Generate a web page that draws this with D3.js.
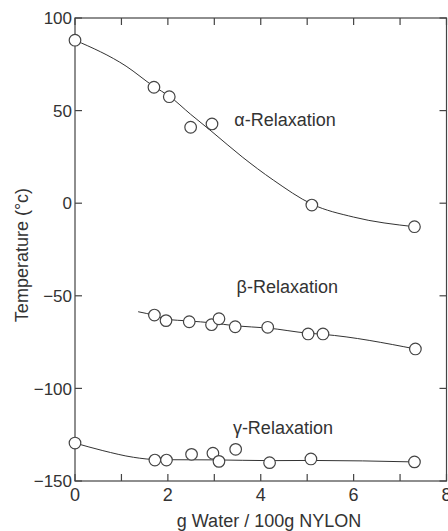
<!DOCTYPE html>
<html><head><meta charset="utf-8">
<script src="https://cdn.jsdelivr.net/npm/d3@7"></script>
<style>body{margin:0;background:#fff}svg{display:block}text{font-family:"Liberation Sans",Arial,sans-serif;fill:#333}</style>
</head><body>
<script>
// Data points (x = g water / 100 g nylon, y = temperature °C)
const alphaX = [0, 1.70, 2.03, 2.49, 2.95, 5.10, 7.31];
const alphaY = [88, 62.6, 57.5, 41, 42.8, -1, -12.7];
const betaX = [1.71, 1.96, 2.46, 2.94, 3.10, 3.45, 4.15, 5.02, 5.34, 7.33];
const betaY = [-60.4, -63.4, -64.0, -65.6, -62.4, -66.7, -67.0, -70.6, -70.6, -78.7];
const gammaX = [0, 1.72, 1.97, 2.51, 2.97, 3.10, 3.46, 4.19, 5.08, 7.31];
const gammaY = [-129.5, -138.7, -138.7, -135.6, -135.0, -139.4, -132.9, -140.1, -138.1, -139.7];
// Fitted curves (smooth guide lines)
const alphaFitX = [0, 1.1, 1.7, 2.03, 2.49, 2.95, 3.6, 4.27, 5.1, 6.0, 7.31];
const alphaFitY = [88, 74, 63, 57.8, 48, 38.6, 25, 12.5, -0.5, -7.5, -12.7];
const betaFitX = [1.36, 1.71, 1.96, 2.46, 2.94, 3.45, 4.15, 5.02, 5.34, 7.33];
const betaFitY = [-58.6, -60.6, -62.6, -63.6, -64.6, -66.2, -67.4, -70.2, -70.8, -78.7];
const gammaFitX = [0, 0.6, 1.26, 1.8, 3.0, 4.2, 5.08, 7.31];
const gammaFitY = [-129.5, -133.6, -137.2, -138.5, -138.6, -139.0, -138.9, -139.7];
const labels = ["α-Relaxation", "β-Relaxation", "γ-Relaxation"];
const labelX = [3.43, 3.48, 3.4];
const labelY = [41.5, -48.5, -124.5];
const xTicks = [0, 1, 2, 3, 4, 5, 6, 7, 8];
const xTickLabels = [0, 2, 4, 6, 8];
const yTicks = [100, 50, 0, -50, -100, -150];

const W = 448, H = 531;
const svg = d3.select("body").append("svg").attr("width", W).attr("height", H);
const x = d3.scaleLinear().domain([0, 8]).range([75, 446.5]);
const y = d3.scaleLinear().domain([-150, 100]).range([481, 18]);
const stroke = "#444";
const fs = 18;

// frame
svg.append("rect").attr("x", x(0)).attr("y", y(100)).attr("width", x(8) - x(0)).attr("height", y(-150) - y(100))
  .attr("fill", "none").attr("stroke", stroke).attr("stroke-width", 1.2);

const tl = 7;
const g = svg.append("g");
xTicks.forEach(t => {
  g.append("line").attr("x1", x(t)).attr("x2", x(t)).attr("y1", y(-150)).attr("y2", y(-150) - tl).attr("stroke", stroke).attr("stroke-width", 1.2);
  g.append("line").attr("x1", x(t)).attr("x2", x(t)).attr("y1", y(100)).attr("y2", y(100) + tl).attr("stroke", stroke).attr("stroke-width", 1.2);
});
yTicks.forEach(t => {
  g.append("line").attr("x1", x(0)).attr("x2", x(0) + tl).attr("y1", y(t)).attr("y2", y(t)).attr("stroke", stroke).attr("stroke-width", 1.2);
  g.append("line").attr("x1", x(8)).attr("x2", x(8) - tl).attr("y1", y(t)).attr("y2", y(t)).attr("stroke", stroke).attr("stroke-width", 1.2);
  g.append("text").attr("x", x(0) - 3).attr("y", y(t)).attr("dy", "0.36em").attr("text-anchor", "end")
    .attr("font-size", 17).text(t < 0 ? "\u2212" + Math.abs(t) : t);
});
xTickLabels.forEach(t => {
  g.append("text").attr("x", x(t)).attr("y", 501).attr("text-anchor", "middle").attr("font-size", fs).text(t);
});
svg.append("text").attr("x", 269).attr("y", 527).attr("text-anchor", "middle").attr("font-size", fs).text("g Water / 100g NYLON");
svg.append("text").attr("transform", "translate(28,255) rotate(-90)").attr("text-anchor", "middle").attr("font-size", fs).text("Temperature (°c)");

const line = d3.line().x(d => x(d[0])).y(d => y(d[1])).curve(d3.curveMonotoneX);
[[alphaFitX, alphaFitY], [betaFitX, betaFitY], [gammaFitX, gammaFitY]].forEach(([xs, ys]) => {
  svg.append("path").attr("d", line(xs.map((v, i) => [v, ys[i]])))
    .attr("fill", "none").attr("stroke", "#333").attr("stroke-width", 1);
});
[[alphaX, alphaY], [betaX, betaY], [gammaX, gammaY]].forEach(([xs, ys]) => {
  svg.append("g").selectAll("circle").data(xs.map((v, i) => [v, ys[i]])).join("circle")
    .attr("cx", d => x(d[0])).attr("cy", d => y(d[1])).attr("r", 5.8)
    .attr("fill", "#fff").attr("stroke", "#444").attr("stroke-width", 1.2);
});
labels.forEach((t, i) => {
  svg.append("text").attr("x", x(labelX[i])).attr("y", y(labelY[i])).attr("text-anchor", "start").attr("font-size", fs).text(t);
});
</script>
</body></html>
